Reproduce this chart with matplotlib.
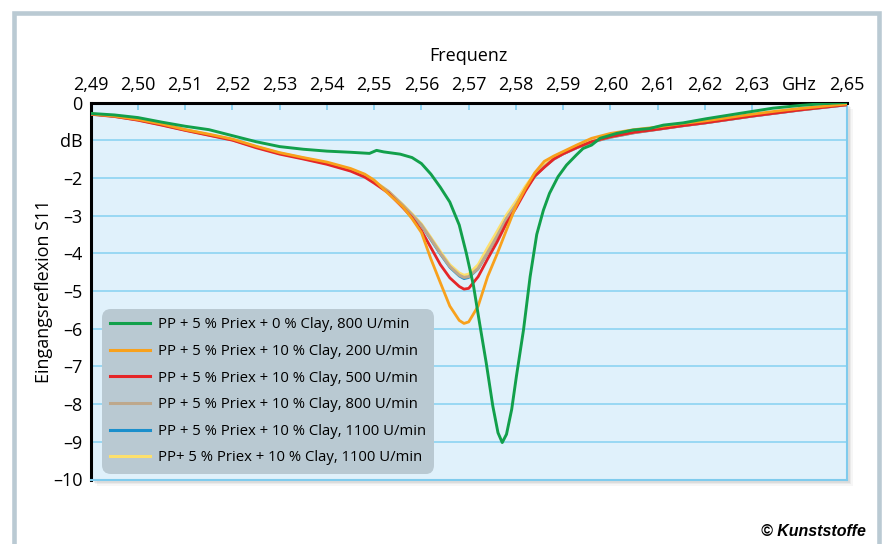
import matplotlib
matplotlib.use("Agg")
import matplotlib.pyplot as plt
from matplotlib.patches import Rectangle
from matplotlib.lines import Line2D

# ---- data (frequency in GHz, S11 in dB) ----
freq = [2.490, 2.495, 2.500, 2.505, 2.510, 2.515, 2.520, 2.525, 2.530, 2.535,
        2.540, 2.545, 2.548, 2.550, 2.553, 2.556, 2.558, 2.560, 2.562, 2.564,
        2.566, 2.568, 2.569, 2.570, 2.572, 2.574, 2.576, 2.578, 2.580, 2.582,
        2.584, 2.586, 2.588, 2.590, 2.593, 2.596, 2.600, 2.605, 2.610, 2.615,
        2.620, 2.625, 2.630, 2.635, 2.640, 2.645, 2.650]

clay10_200 = [-0.30, -0.36, -0.45, -0.57, -0.72, -0.84, -0.97, -1.16, -1.33, -1.46,
              -1.58, -1.75, -1.90, -2.06, -2.42, -2.76, -3.08, -3.45, -4.15, -4.78,
              -5.40, -5.78, -5.86, -5.82, -5.40, -4.62, -4.02, -3.38, -2.75, -2.28,
              -1.86, -1.56, -1.42, -1.30, -1.12, -0.95, -0.82, -0.72, -0.65, -0.56,
              -0.49, -0.40, -0.31, -0.23, -0.16, -0.10, -0.04]

clay10_500 = [-0.31, -0.37, -0.47, -0.60, -0.74, -0.87, -1.00, -1.20, -1.37, -1.50,
              -1.64, -1.82, -1.98, -2.14, -2.40, -2.78, -3.05, -3.40, -3.85, -4.30,
              -4.65, -4.88, -4.95, -4.93, -4.62, -4.15, -3.70, -3.20, -2.80, -2.35,
              -1.95, -1.72, -1.50, -1.36, -1.19, -1.04, -0.91, -0.79, -0.71, -0.62,
              -0.54, -0.45, -0.36, -0.28, -0.20, -0.13, -0.06]

clay10_800 = [-0.31, -0.37, -0.46, -0.59, -0.73, -0.86, -0.99, -1.18, -1.35, -1.48,
              -1.62, -1.79, -1.95, -2.10, -2.36, -2.72, -2.98, -3.25, -3.62, -4.00,
              -4.35, -4.58, -4.64, -4.62, -4.40, -3.98, -3.55, -3.08, -2.72, -2.30,
              -1.95, -1.70, -1.50, -1.36, -1.19, -1.05, -0.92, -0.80, -0.71, -0.62,
              -0.54, -0.45, -0.36, -0.28, -0.20, -0.13, -0.06]

clay10_1100 = [-0.31, -0.37, -0.46, -0.59, -0.73, -0.86, -0.99, -1.18, -1.35, -1.48,
               -1.62, -1.79, -1.95, -2.10, -2.37, -2.73, -2.99, -3.27, -3.65, -4.03,
               -4.38, -4.61, -4.68, -4.65, -4.42, -4.00, -3.56, -3.08, -2.72, -2.30,
               -1.96, -1.71, -1.51, -1.37, -1.20, -1.06, -0.93, -0.81, -0.72, -0.63,
               -0.55, -0.46, -0.37, -0.29, -0.21, -0.14, -0.07]

clay10_1100b = [-0.30, -0.36, -0.45, -0.58, -0.72, -0.85, -0.98, -1.17, -1.34, -1.47,
                -1.61, -1.78, -1.93, -2.08, -2.35, -2.70, -2.95, -3.22, -3.58, -3.95,
                -4.30, -4.52, -4.58, -4.55, -4.30, -3.85, -3.42, -2.98, -2.62, -2.22,
                -1.88, -1.65, -1.47, -1.34, -1.17, -1.03, -0.90, -0.79, -0.70, -0.61,
                -0.53, -0.44, -0.35, -0.27, -0.19, -0.12, -0.05]

freq_green = [2.490, 2.495, 2.500, 2.505, 2.510, 2.515, 2.520, 2.525, 2.530, 2.535,
              2.540, 2.545, 2.549, 2.5505, 2.552, 2.5555, 2.558, 2.560, 2.562, 2.564,
              2.566, 2.568, 2.5695, 2.571, 2.5723, 2.5737, 2.5751, 2.5762, 2.5771, 2.578,
              2.5791, 2.5801, 2.5816, 2.583, 2.5844, 2.5858, 2.5871, 2.5889, 2.5907, 2.5928,
              2.5942, 2.596, 2.5978, 2.6013, 2.6048, 2.6083, 2.6112, 2.6154, 2.6203, 2.6273,
              2.6344, 2.640, 2.645, 2.650]
clay0_800 = [-0.29, -0.33, -0.40, -0.52, -0.63, -0.72, -0.88, -1.04, -1.17, -1.24,
             -1.29, -1.32, -1.35, -1.27, -1.31, -1.37, -1.46, -1.62, -1.90, -2.25,
             -2.64, -3.25, -4.00, -4.85, -5.85, -6.90, -8.05, -8.76, -9.02, -8.80,
             -8.14, -7.26, -6.03, -4.62, -3.50, -2.86, -2.41, -1.97, -1.66, -1.39,
             -1.22, -1.13, -0.95, -0.82, -0.73, -0.69, -0.60, -0.54, -0.43, -0.29,
             -0.15, -0.08, -0.03, 0.00]

labels = ["PP + 5 % Priex + 0 % Clay, 800 U/min",
          "PP + 5 % Priex + 10 % Clay, 200 U/min",
          "PP + 5 % Priex + 10 % Clay, 500 U/min",
          "PP + 5 % Priex + 10 % Clay, 800 U/min",
          "PP + 5 % Priex + 10 % Clay, 1100 U/min",
          "PP+ 5 % Priex + 10 % Clay, 1100 U/min"]
colors = ["#12a04b", "#f8a11c", "#e52528", "#bea88c", "#1b8fcc", "#fde06c"]

xticks = [2.49, 2.50, 2.51, 2.52, 2.53, 2.54, 2.55, 2.56, 2.57, 2.58,
          2.59, 2.60, 2.61, 2.62, 2.63, 2.64, 2.65]
xticklabels = ["2,49", "2,50", "2,51", "2,52", "2,53", "2,54", "2,55", "2,56", "2,57",
               "2,58", "2,59", "2,60", "2,61", "2,62", "2,63", "GHz", "2,65"]
yticks = [0, -1, -2, -3, -4, -5, -6, -7, -8, -9, -10]
yticklabels = ["0", "dB", "\u20132", "\u20133", "\u20134", "\u20135", "\u20136",
               "\u20137", "\u20138", "\u20139", "\u201310"]

plt.rcParams["font.family"] = ["Open Sans", "DejaVu Sans"]

W, H = 887, 544
fig = plt.figure(figsize=(W / 100, H / 100), dpi=100)
fig.patch.set_facecolor("white")


def fx(px):
    return px / W


def fy(py):
    return 1 - py / H


# outer frame
fig.add_artist(Rectangle((fx(14.3), fy(560)), fx(879 - 14.3), (560 - 12.8) / H,
                         transform=fig.transFigure, fill=False, ec="#bacad3", lw=3.3,
                         zorder=-2))

L, R, T, B = 90.7, 846.7, 102.5, 479.5
# soft shadow behind the plot area
for off, a in [(6, 0.05), (4.5, 0.07), (3, 0.09), (1.5, 0.1)]:
    fig.add_artist(Rectangle((fx(L + off), fy(B + off)), fx(R - L), (B - T) / H,
                             transform=fig.transFigure, fc="#555555", ec="none", alpha=a,
                             zorder=-1))

ax = fig.add_axes([fx(L), fy(B), fx(R - L), (B - T) / H])
ax.set_zorder(1)
ax.set_facecolor("#e0f1fb")

series = [clay0_800, clay10_200, clay10_500, clay10_800, clay10_1100, clay10_1100b]
xs = [freq_green] + [freq] * 5
widths = [2.1, 2.0, 2.0, 2.2, 1.6, 2.0]
for i in reversed(range(6)):
    ax.plot(xs[i], series[i], color=colors[i], lw=widths[i], zorder=3 + (5 - i) * 0.1,
            solid_joinstyle="round")

ax.set_xlim(2.49, 2.65)
ax.set_ylim(-10, 0)
ax.xaxis.tick_top()
ax.xaxis.set_label_position("top")
ax.set_xticks(xticks)
ax.set_xticklabels(xticklabels)
ax.set_yticks(yticks)
ax.set_yticklabels(yticklabels)
ax.tick_params(axis="x", direction="in", length=5, width=1.3, color="#86cff0",
               labelsize=13, pad=6)
ax.tick_params(axis="y", length=0, labelsize=13, pad=6)
ax.set_xlabel("Frequenz", fontsize=13, labelpad=11)
ax.set_ylabel("Eingangsreflexion S11", fontsize=13, labelpad=0)
ax.grid(axis="y", color="#8dd3f2", lw=1.2)
ax.set_axisbelow(True)

for side in ("left", "top"):
    ax.spines[side].set_color("black")
    ax.spines[side].set_linewidth(2.2)
for side in ("right", "bottom"):
    ax.spines[side].set_color("#7fcbed")
    ax.spines[side].set_linewidth(1.5)

handles = [Line2D([], [], color=c, lw=2.2) for c in colors]
leg = ax.legend(handles, labels, loc="upper left",
                bbox_to_anchor=(fx(101.7), fy(309.3)), bbox_transform=fig.transFigure,
                borderaxespad=0, fontsize=10.7, frameon=True, facecolor="#b9c9d2",
                edgecolor="none", framealpha=1, fancybox=True, handlelength=2.7,
                handletextpad=0.55, labelspacing=0.78, borderpad=0.55)
leg.get_frame().set_boxstyle("round", pad=0, rounding_size=0.6)
leg.set_zorder(10)

fig.text(fx(866), fy(531), "\u00a9 Kunststoffe", ha="right", va="center",
         fontsize=11.5, fontweight="bold", fontstyle="italic",
         family=["Liberation Sans", "DejaVu Sans"])

fig.savefig("out.png", dpi=100)
